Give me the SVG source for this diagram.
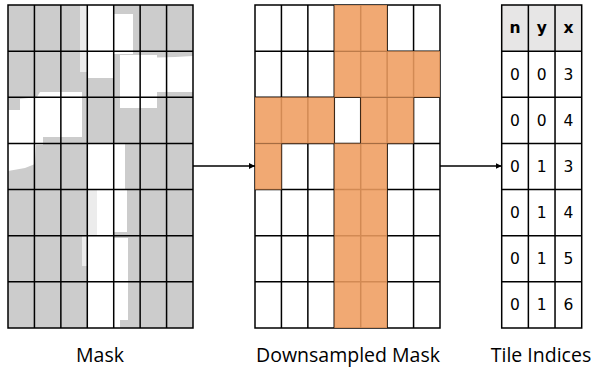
<svg xmlns="http://www.w3.org/2000/svg" width="592" height="368" viewBox="0 0 592 368">
<style>
.grid{fill:none;stroke:#000;stroke-width:1.5}
.orange{fill:#EF9D60;fill-opacity:0.88}
.wh{fill:#fff}
.lt{fill:#ececec}
.hdr{font-family:"DejaVu Sans",sans-serif;font-size:15.5px;font-weight:bold;text-anchor:middle;fill:#000}
.val{font-family:"DejaVu Sans",sans-serif;font-size:15.5px;text-anchor:middle;fill:#000}
.lbl{font-family:"Open Sans","Noto Sans",sans-serif;font-size:19.5px;text-anchor:middle;fill:#000}
.conn{stroke:#000;stroke-width:1.5;fill:none}
</style>
<defs>
<marker id="ah" viewBox="0 0 10 10" refX="10" refY="5" markerWidth="6" markerHeight="6" markerUnits="userSpaceOnUse" orient="auto">
<path d="M0,0 L10,5 L0,10 Z" fill="#000"/>
</marker>
</defs>
<rect width="592" height="368" fill="#fff"/>

<g id="mask">
<rect x="8" y="5" width="185" height="323" fill="#cccccc"/>
<rect class="lt" x="80" y="5" width="8" height="67"/>
<rect class="lt" x="82" y="236" width="15" height="30"/>
<rect class="lt" x="88" y="190" width="9" height="46"/>
<rect class="wh" x="88" y="5" width="26" height="73"/>
<rect class="wh" x="100" y="18" width="33" height="33"/>
<rect class="wh" x="114" y="14" width="19" height="40"/>
<rect class="wh" x="120" y="55" width="37" height="53"/>
<path class="wh" d="M140,58 L175,57 L193,56 L193,92 L140,92 Z"/>
<path class="wh" d="M8,110 L20,110 L20,99 L37,97 L40,92 L82,92 L82,137 L43,137 L43,145 L36,145 L35,164 L25,168 L8,171 Z"/>
<rect class="wh" x="88" y="143" width="37" height="47"/>
<rect class="wh" x="97" y="190" width="30" height="42"/>
<rect class="wh" x="88" y="236" width="26" height="92"/>
<rect class="wh" x="97" y="232" width="17" height="6"/>
<rect class="wh" x="114" y="238" width="14" height="82"/>
<rect class="wh" x="114" y="320" width="6" height="8"/>
<path class="grid" d="M8,5H193V328H8Z M34.43,5V328 M60.86,5V328 M87.29,5V328 M113.71,5V328 M140.14,5V328 M166.57,5V328 M8,51.14H193 M8,97.29H193 M8,143.43H193 M8,189.57H193 M8,235.71H193 M8,281.86H193"/>
</g>

<g id="downsampled">
<path class="grid" d="M255,5H440V328H255Z M281.43,5V328 M307.86,5V328 M334.29,5V328 M360.71,5V328 M387.14,5V328 M413.57,5V328 M255,51.14H440 M255,97.29H440 M255,143.43H440 M255,189.57H440 M255,235.71H440 M255,281.86H440"/>
<rect class="orange" x="334.29" y="5" width="52.86" height="46.14"/>
<rect class="orange" x="334.29" y="51.14" width="105.71" height="46.15"/>
<rect class="orange" x="255" y="97.29" width="79.29" height="46.14"/>
<rect class="orange" x="360.71" y="97.29" width="52.86" height="46.14"/>
<rect class="orange" x="255" y="143.43" width="26.43" height="46.14"/>
<rect class="orange" x="334.29" y="143.43" width="52.86" height="184.57"/>
</g>

<g id="tile-indices">
<rect x="501.7" y="5" width="80" height="46.14" fill="#e7e6e6"/>
<path class="grid" d="M501.7,5H581.7V328H501.7Z M528.37,5V328 M555.03,5V328 M501.7,51.14H581.7 M501.7,97.29H581.7 M501.7,143.43H581.7 M501.7,189.57H581.7 M501.7,235.71H581.7 M501.7,281.86H581.7"/>
<text class="hdr" x="515" y="33">n</text>
<text class="hdr" x="541.7" y="33">y</text>
<text class="hdr" x="568.4" y="33">x</text>
<g class="val">
<text x="515" y="80">0</text><text x="541.7" y="80">0</text><text x="568.4" y="80">3</text>
<text x="515" y="126">0</text><text x="541.7" y="126">0</text><text x="568.4" y="126">4</text>
<text x="515" y="172">0</text><text x="541.7" y="172">1</text><text x="568.4" y="172">3</text>
<text x="515" y="218">0</text><text x="541.7" y="218">1</text><text x="568.4" y="218">4</text>
<text x="515" y="264">0</text><text x="541.7" y="264">1</text><text x="568.4" y="264">5</text>
<text x="515" y="310">0</text><text x="541.7" y="310">1</text><text x="568.4" y="310">6</text>
</g>
</g>

<g id="connectors">
<line class="conn" x1="193" y1="166" x2="255" y2="166" marker-end="url(#ah)"/>
<line class="conn" x1="440" y1="166" x2="501.7" y2="166" marker-end="url(#ah)"/>
</g>

<g id="labels">
<text class="lbl" x="100" y="362">Mask</text>
<text class="lbl" x="348" y="362">Downsampled Mask</text>
<text class="lbl" x="541" y="362">Tile Indices</text>
</g>
</svg>
